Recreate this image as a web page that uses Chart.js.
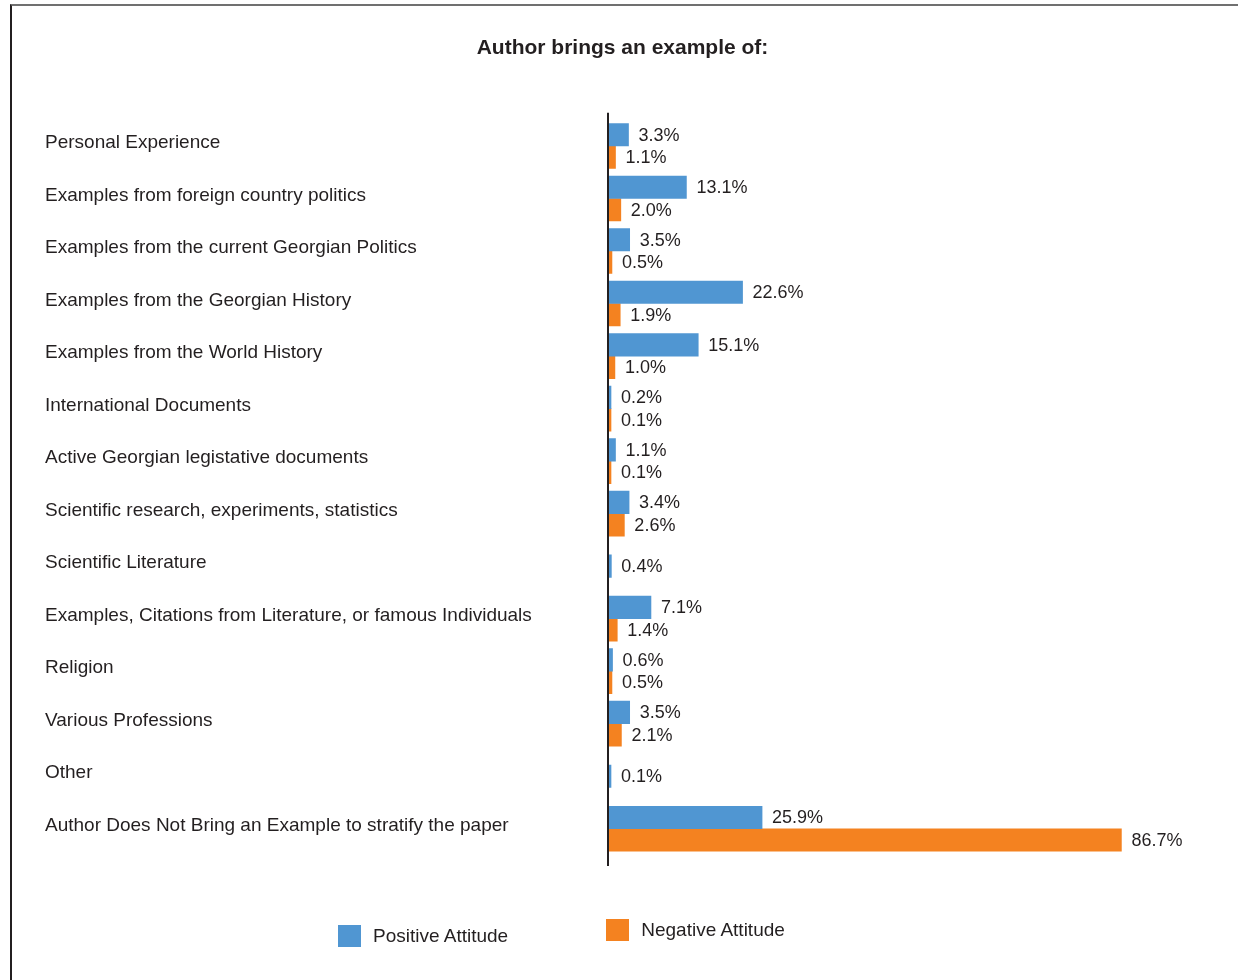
<!DOCTYPE html>
<html>
<head>
<meta charset="utf-8">
<title>Author brings an example of</title>
<script src="https://cdn.jsdelivr.net/npm/chart.js@4.4.1/dist/chart.umd.min.js"></script>
<style>
    html, body {
        margin: 0;
        padding: 0;
        background: #fff;
        overflow: hidden;
    }
    #wrap {
        position: relative;
        width: 1238px;
        height: 980px;
    }
    #frame {
        position: absolute;
        left: 10px;
        top: 4px;
        right: -10px;
        bottom: -10px;
        border-top: 2px solid #707070;
        border-left: 2px solid #231f20;
        pointer-events: none;
    }
    #legend {
        position: absolute;
        left: 338px;
        top: 919px;
        display: flex;
        gap: 98px;
        font: 19px "Liberation Sans", Arial, sans-serif;
        color: #231f20;
    }
    #legend .item {
        display: flex;
        align-items: center;
        height: 22px;
    }
    #legend .item:first-child {
        margin-top: 6px;
    }
    #legend .box {
        width: 23px;
        height: 22px;
        margin-right: 12px;
    }
</style>
</head>
<body>
<div id="wrap">
    <div id="frame"></div>
    <canvas id="chart"></canvas>
    <div id="legend"></div>
</div>
<script>
const categories = [
    'Personal Experience',
    'Examples from foreign country politics',
    'Examples from the current Georgian Politics',
    'Examples from the Georgian History',
    'Examples from the World History',
    'International Documents',
    'Active Georgian legistative documents',
    'Scientific research, experiments, statistics',
    'Scientific Literature',
    'Examples, Citations from Literature, or famous Individuals',
    'Religion',
    'Various Professions',
    'Other',
    'Author Does Not Bring an Example to stratify the paper',
];

const positiveValues = [3.3, 13.1, 3.5, 22.6, 15.1, 0.2, 1.1, 3.4, 0.4, 7.1, 0.6, 3.5, 0.1, 25.9];
const negativeValues = [1.1, 2.0, 0.5, 1.9, 1.0, 0.1, 0.1, 2.6, null, 1.4, 0.5, 2.1, null, 86.7];

const BLUE = '#5096d2';
const ORANGE = '#f48220';
const TEXT = '#231f20';
const FONT = '"Liberation Sans", Arial, sans-serif';

// value labels drawn just past the end of each bar, plus the long axis line
const barLabels = {
    id: 'barLabels',
    afterDatasetsDraw(chart) {
        const { ctx, chartArea } = chart;
        ctx.save();
        ctx.font = '18px ' + FONT;
        ctx.fillStyle = TEXT;
        ctx.textAlign = 'left';
        ctx.textBaseline = 'middle';
        chart.data.datasets.forEach((ds, i) => {
            const meta = chart.getDatasetMeta(i);
            meta.data.forEach((bar, j) => {
                const v = ds.data[j];
                if (v === null || v === undefined) return;
                const end = Math.max(bar.x, chartArea.left + 1);
                ctx.fillText(v.toFixed(1) + '%', end + 10, bar.y + 1);
            });
        });

        ctx.strokeStyle = TEXT;
        ctx.lineWidth = 2;
        ctx.beginPath();
        ctx.moveTo(chartArea.left - 1, chartArea.top - 7);
        ctx.lineTo(chartArea.left - 1, chartArea.bottom + 11);
        ctx.stroke();
        ctx.restore();
    },
};

const chart = new Chart(document.getElementById('chart'), {
    type: 'bar',
    data: {
        labels: categories,
        datasets: [
            {
                label: 'Positive Attitude',
                data: positiveValues,
                backgroundColor: BLUE,
                barThickness: 22.5,
                minBarLength: 2,
                skipNull: true,
            },
            {
                label: 'Negative Attitude',
                data: negativeValues,
                backgroundColor: ORANGE,
                barThickness: 22.5,
                minBarLength: 2,
                skipNull: true,
            },
        ],
    },
    options: {
        indexAxis: 'y',
        responsive: true,
        maintainAspectRatio: false,
        animation: false,
        layout: {
            padding: { top: 36, left: 45, right: 38, bottom: 125 },
        },
        scales: {
            x: {
                display: false,
                min: 0,
                max: 100,
            },
            y: {
                grid: { display: false, drawTicks: false },
                border: { display: false },
                ticks: {
                    crossAlign: 'far',
                    color: TEXT,
                    font: { family: FONT, size: 19 },
                    labelOffset: -3,
                },
                afterFit(axis) {
                    axis.width = 564;
                },
            },
        },
        plugins: {
            legend: { display: false },
            tooltip: { enabled: false },
            title: {
                display: true,
                text: 'Author brings an example of:',
                color: TEXT,
                font: { family: FONT, size: 21, weight: 'bold' },
                padding: { top: 0, bottom: 58.5 },
            },
        },
    },
    plugins: [barLabels],
});

// html legend built from the datasets
const legendEl = document.getElementById('legend');
chart.data.datasets.forEach((ds) => {
    const item = document.createElement('div');
    item.className = 'item';
    const box = document.createElement('span');
    box.className = 'box';
    box.style.background = ds.backgroundColor;
    const txt = document.createElement('span');
    txt.textContent = ds.label;
    item.appendChild(box);
    item.appendChild(txt);
    legendEl.appendChild(item);
});
</script>
</body>
</html>
